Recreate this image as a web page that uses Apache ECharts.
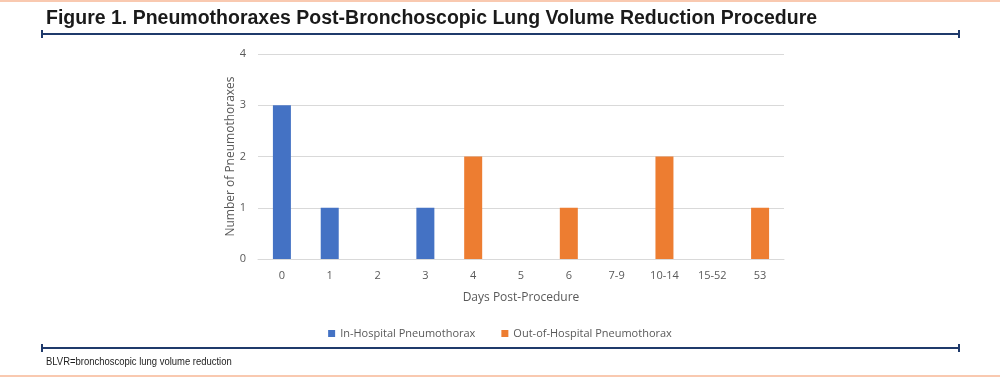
<!DOCTYPE html>
<html>
<head>
<meta charset="utf-8">
<script src="https://cdn.jsdelivr.net/npm/echarts@6/dist/echarts.min.js"></script>
<style>
  html, body { margin: 0; padding: 0; background: #fff; }
  #chart { width: 1000px; height: 377px; }
</style>
</head>
<body>
<div id="chart"></div>
<script>
// days after the procedure
var days = ['0', '1', '2', '3', '4', '5', '6', '7-9', '10-14', '15-52', '53'];
var inHospital = [3, 1, 0, 1, 0, 0, 0, 0, 0, 0, 0];
var outOfHospital = [0, 0, 0, 0, 2, 0, 1, 0, 2, 0, 1];
var yTicks = [0, 1, 2, 3, 4];

var navy = '#1f3a6b';
var peach = '#f9c9b0';
var grey = '#595959';

function rule(y) {
    return [
        { type: 'line', shape: { x1: 42, y1: y, x2: 959, y2: y }, style: { stroke: navy, lineWidth: 2 } },
        { type: 'line', shape: { x1: 42, y1: y - 4, x2: 42, y2: y + 4 }, style: { stroke: navy, lineWidth: 2 } },
        { type: 'line', shape: { x1: 959, y1: y - 4, x2: 959, y2: y + 4 }, style: { stroke: navy, lineWidth: 2 } }
    ];
}

var myChart = echarts.init(document.getElementById('chart'));
myChart.setOption({
    animation: false,
    graphic: [].concat(
        [{ type: 'rect', shape: { x: 0, y: 0, width: 1000, height: 2 }, style: { fill: peach } },
         { type: 'rect', shape: { x: 0, y: 375, width: 1000, height: 2 }, style: { fill: peach } },
         { type: 'text', x: 46, y: 8, scaleX: 0.975,
           style: { text: 'Figure 1. Pneumothoraxes Post-Bronchoscopic Lung Volume Reduction Procedure',
                    fontFamily: 'Liberation Sans, Arial, sans-serif', fontWeight: 'bold', fontSize: 20, fill: '#1a1a1a' } },
         { type: 'text', x: 46, y: 356, scaleX: 0.86,
           style: { text: 'BLVR=bronchoscopic lung volume reduction', fontFamily: 'Liberation Sans, Arial, sans-serif', fontSize: 11, fill: '#222' } }],
        rule(34), rule(348)
    ),
    legend: {
        bottom: 33, left: 'center', itemGap: 26,
        itemWidth: 7, itemHeight: 7, icon: 'rect',
        textStyle: { color: grey, fontFamily: 'Open Sans, sans-serif', fontSize: 11 }
    },
    grid: { left: 258, right: 216, top: 54, bottom: 118 },
    xAxis: {
        type: 'category', data: days,
        name: 'Days Post-Procedure', nameLocation: 'middle', nameGap: 33,
        nameTextStyle: { color: grey, fontFamily: 'Open Sans, sans-serif', fontSize: 12 },
        axisLine: { lineStyle: { color: '#d9d9d9' } },
        axisTick: { show: false },
        axisLabel: { color: grey, fontFamily: 'Open Sans, sans-serif', fontSize: 11, margin: 11 }
    },
    yAxis: {
        type: 'value', min: yTicks[0], max: yTicks[yTicks.length - 1], interval: 1,
        name: 'Number of Pneumothoraxes', nameLocation: 'middle', nameGap: 21, nameMoveOverlap: false,
        nameTextStyle: { color: grey, fontFamily: 'Open Sans, sans-serif', fontSize: 12 },
        axisLine: { show: false }, axisTick: { show: false },
        axisLabel: { color: grey, fontFamily: 'Open Sans, sans-serif', fontSize: 11, margin: 12 },
        splitLine: { lineStyle: { color: '#d9d9d9' } }
    },
    series: [
        { name: 'In-Hospital Pneumothorax', type: 'bar', stack: 'p', data: inHospital, barWidth: 18, itemStyle: { color: '#4472c4' } },
        { name: 'Out-of-Hospital Pneumothorax', type: 'bar', stack: 'p', data: outOfHospital, barWidth: 18, itemStyle: { color: '#ed7d31' } }
    ]
});
</script>
</body>
</html>
